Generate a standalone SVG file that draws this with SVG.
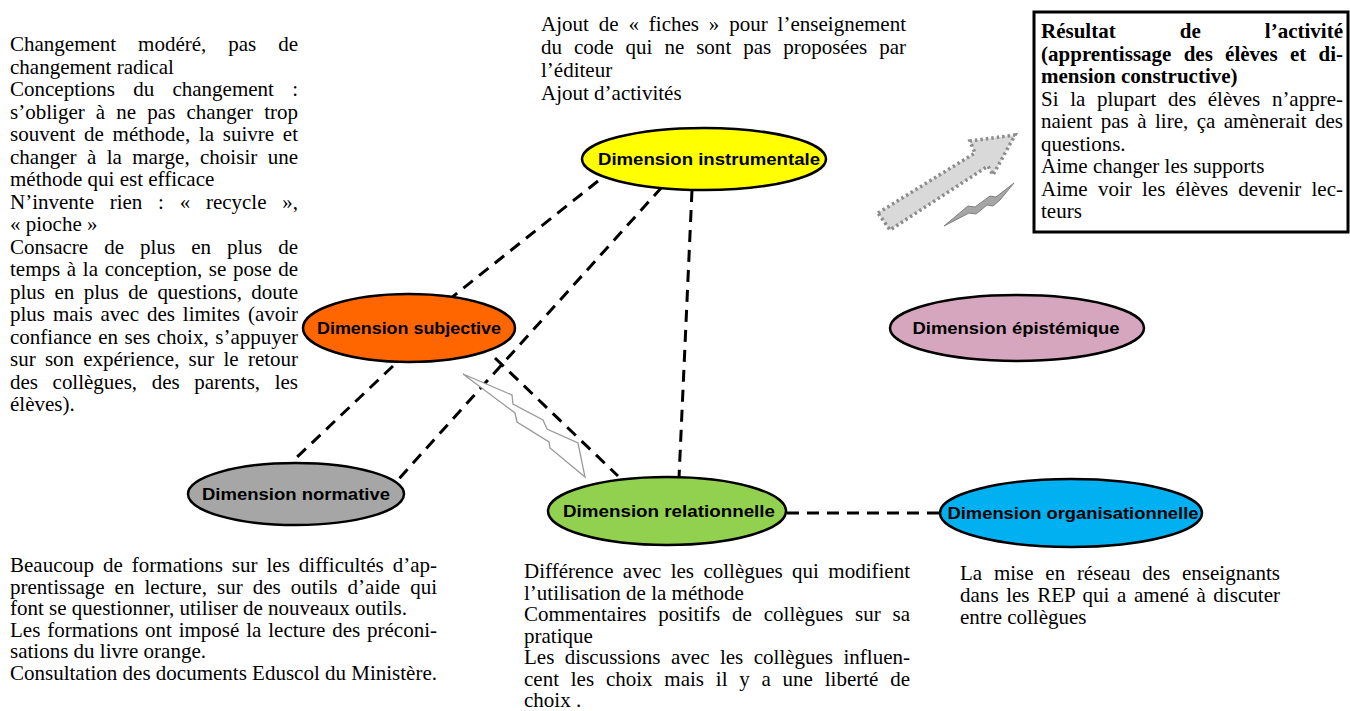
<svg xmlns="http://www.w3.org/2000/svg" width="1350" height="711" viewBox="0 0 1350 711">
<style>
.t{font-family:"Liberation Serif","Times New Roman",serif;font-size:21px;fill:#000}
.b{font-weight:bold}
.lbl{font-family:"Liberation Sans",Arial,sans-serif;font-weight:bold;font-size:17px;fill:#000;text-anchor:middle}
.node{stroke:#000;stroke-width:2.5}
.con{stroke:#000;stroke-width:3;stroke-dasharray:12 8;fill:none}
</style>
<rect width="1350" height="711" fill="#fff"/>
<g id="connectors">
<line class="con" x1="598" y1="181" x2="446" y2="302"/>
<line class="con" x1="662" y1="187" x2="387" y2="492"/>
<line class="con" x1="692" y1="190" x2="679" y2="478"/>
<line class="con" x1="393" y1="366" x2="297" y2="457"/>
<line class="con" x1="495" y1="358" x2="618" y2="476"/>
<line class="con" x1="787" y1="513" x2="940" y2="513"/>
</g>
<g id="bolt1">
<polygon points="463,374 512,395 513,404 543,420 547,429 578,443 585,477 550,448 549,442 517,422 515,413" fill="#fff" stroke="#999" stroke-width="1.3"/>
</g>
<g id="big-arrow">
<polygon points="878,213 975,153 970,141 1015,135 993,175 988,166 890,230" fill="#D9D9D9" stroke="#8c8c8c" stroke-width="3.5" stroke-dasharray="2.5 3"/>
</g>
<g id="bolt2">
<polygon points="944,226 968,206 975,207 990,196 996,197 1014,183 1000,200 993,206 987,205 976,214 969,213" fill="#a6a6a6" stroke="#808080" stroke-width="1"/>
</g>
<g id="node-instrumentale">
<ellipse class="node" cx="704" cy="159" rx="122" ry="31" fill="#FFFF00"/>
<text class="lbl" x="709" y="165" textLength="222" lengthAdjust="spacingAndGlyphs">Dimension instrumentale</text>
</g>
<g id="node-subjective">
<ellipse class="node" cx="409" cy="328" rx="106" ry="34" fill="#FF6600"/>
<text class="lbl" x="409" y="334" textLength="184" lengthAdjust="spacingAndGlyphs">Dimension subjective</text>
</g>
<g id="node-epistemique">
<ellipse class="node" cx="1017" cy="328" rx="127" ry="33" fill="#D5A6BD"/>
<text class="lbl" x="1016" y="334" textLength="207" lengthAdjust="spacingAndGlyphs">Dimension épistémique</text>
</g>
<g id="node-normative">
<ellipse class="node" cx="296" cy="494" rx="108" ry="31" fill="#A6A6A6"/>
<text class="lbl" x="296" y="500" textLength="188" lengthAdjust="spacingAndGlyphs">Dimension normative</text>
</g>
<g id="node-relationnelle">
<ellipse class="node" cx="667" cy="511" rx="119" ry="34" fill="#92D050"/>
<text class="lbl" x="669" y="517" textLength="212" lengthAdjust="spacingAndGlyphs">Dimension relationnelle</text>
</g>
<g id="node-organisationnelle">
<ellipse class="node" cx="1071" cy="513" rx="131" ry="34" fill="#00B0F0"/>
<text class="lbl" x="1073" y="519" textLength="251" lengthAdjust="spacingAndGlyphs">Dimension organisationnelle</text>
</g>
<g id="text-subjective">
<text class="t" x="10" y="51" style="word-spacing:16.7px" textLength="288" lengthAdjust="spacing">Changement modéré, pas de</text>
<text class="t" x="10" y="73.5">changement radical</text>
<text class="t" x="10" y="96" style="word-spacing:13px" textLength="288" lengthAdjust="spacing">Conceptions du changement :</text>
<text class="t" x="10" y="118.5" style="word-spacing:5.9px" textLength="288" lengthAdjust="spacing">s’obliger à ne pas changer trop</text>
<text class="t" x="10" y="141" style="word-spacing:3.5px" textLength="288" lengthAdjust="spacing">souvent de méthode, la suivre et</text>
<text class="t" x="10" y="163.5" style="word-spacing:5.1px" textLength="288" lengthAdjust="spacing">changer à la marge, choisir une</text>
<text class="t" x="10" y="186">méthode qui est efficace</text>
<text class="t" x="10" y="208.5" style="word-spacing:10.5px" textLength="288" lengthAdjust="spacing">N’invente rien : « recycle »,</text>
<text class="t" x="10" y="231">« pioche »</text>
<text class="t" x="10" y="253.5" style="word-spacing:10.8px" textLength="288" lengthAdjust="spacing">Consacre de plus en plus de</text>
<text class="t" x="10" y="276" style="word-spacing:1.4px" textLength="288" lengthAdjust="spacing">temps à la conception, se pose de</text>
<text class="t" x="10" y="298.5" style="word-spacing:4.2px" textLength="288" lengthAdjust="spacing">plus en plus de questions, doute</text>
<text class="t" x="10" y="321" style="word-spacing:2.7px" textLength="288" lengthAdjust="spacing">plus mais avec des limites (avoir</text>
<text class="t" x="10" y="343.5" style="word-spacing:1.3px" textLength="288" lengthAdjust="spacing">confiance en ses choix, s’appuyer</text>
<text class="t" x="10" y="366" style="word-spacing:4px" textLength="288" lengthAdjust="spacing">sur son expérience, sur le retour</text>
<text class="t" x="10" y="388.5" style="word-spacing:9.3px" textLength="288" lengthAdjust="spacing">des collègues, des parents, les</text>
<text class="t" x="10" y="411">élèves).</text>
</g>
<g id="text-instrumentale">
<text class="t" x="541" y="31" style="word-spacing:4.6px" textLength="365" lengthAdjust="spacing">Ajout de « fiches » pour l’enseignement</text>
<text class="t" x="541" y="54" style="word-spacing:6.7px" textLength="365" lengthAdjust="spacing">du code qui ne sont pas proposées par</text>
<text class="t" x="541" y="77">l’éditeur</text>
<text class="t" x="541" y="100">Ajout d’activités</text>
</g>
<g id="box-resultat">
<rect x="1034" y="12" width="314" height="220" fill="#fff" stroke="#000" stroke-width="3"/>
<text class="t b" x="1041" y="38" style="word-spacing:58.8px" textLength="302" lengthAdjust="spacing">Résultat de l’activité</text>
<text class="t b" x="1041" y="60.5" style="word-spacing:7px" textLength="302" lengthAdjust="spacing">(apprentissage des élèves et di-</text>
<text class="t b" x="1041" y="83">mension constructive)</text>
<text class="t" x="1041" y="105.5" style="word-spacing:6.4px" textLength="302" lengthAdjust="spacing">Si la plupart des élèves n’appre-</text>
<text class="t" x="1041" y="128" style="word-spacing:3.2px" textLength="302" lengthAdjust="spacing">naient pas à lire, ça amènerait des</text>
<text class="t" x="1041" y="150.5">questions.</text>
<text class="t" x="1041" y="173">Aime changer les supports</text>
<text class="t" x="1041" y="195.5" style="word-spacing:5px" textLength="302" lengthAdjust="spacing">Aime voir les élèves devenir lec-</text>
<text class="t" x="1041" y="218">teurs</text>
</g>
<g id="text-normative">
<text class="t" x="10" y="572" style="word-spacing:3.7px" textLength="427" lengthAdjust="spacing">Beaucoup de formations sur les difficultés d’ap-</text>
<text class="t" x="10" y="593.5" style="word-spacing:4.8px" textLength="427" lengthAdjust="spacing">prentissage en lecture, sur des outils d’aide qui</text>
<text class="t" x="10" y="615">font se questionner, utiliser de nouveaux outils.</text>
<text class="t" x="10" y="636.5" style="word-spacing:1.6px" textLength="427" lengthAdjust="spacing">Les formations ont imposé la lecture des préconi-</text>
<text class="t" x="10" y="658">sations du livre orange.</text>
<text class="t" x="10" y="679.5">Consultation des documents Eduscol du Ministère.</text>
</g>
<g id="text-relationnelle">
<text class="t" x="524" y="578" style="word-spacing:4.1px" textLength="386" lengthAdjust="spacing">Différence avec les collègues qui modifient</text>
<text class="t" x="524" y="599.5">l’utilisation de la méthode</text>
<text class="t" x="524" y="621" style="word-spacing:6.6px" textLength="386" lengthAdjust="spacing">Commentaires positifs de collègues sur sa</text>
<text class="t" x="524" y="642.5">pratique</text>
<text class="t" x="524" y="664" style="word-spacing:5.2px" textLength="386" lengthAdjust="spacing">Les discussions avec les collègues influen-</text>
<text class="t" x="524" y="685.5" style="word-spacing:6.5px" textLength="386" lengthAdjust="spacing">cent les choix mais il y a une liberté de</text>
<text class="t" x="524" y="707">choix .</text>
</g>
<g id="text-organisationnelle">
<text class="t" x="960" y="580" style="word-spacing:6.5px" textLength="320" lengthAdjust="spacing">La mise en réseau des enseignants</text>
<text class="t" x="960" y="602" style="word-spacing:2.3px" textLength="320" lengthAdjust="spacing">dans les REP qui a amené à discuter</text>
<text class="t" x="960" y="624">entre collègues</text>
</g>
</svg>
